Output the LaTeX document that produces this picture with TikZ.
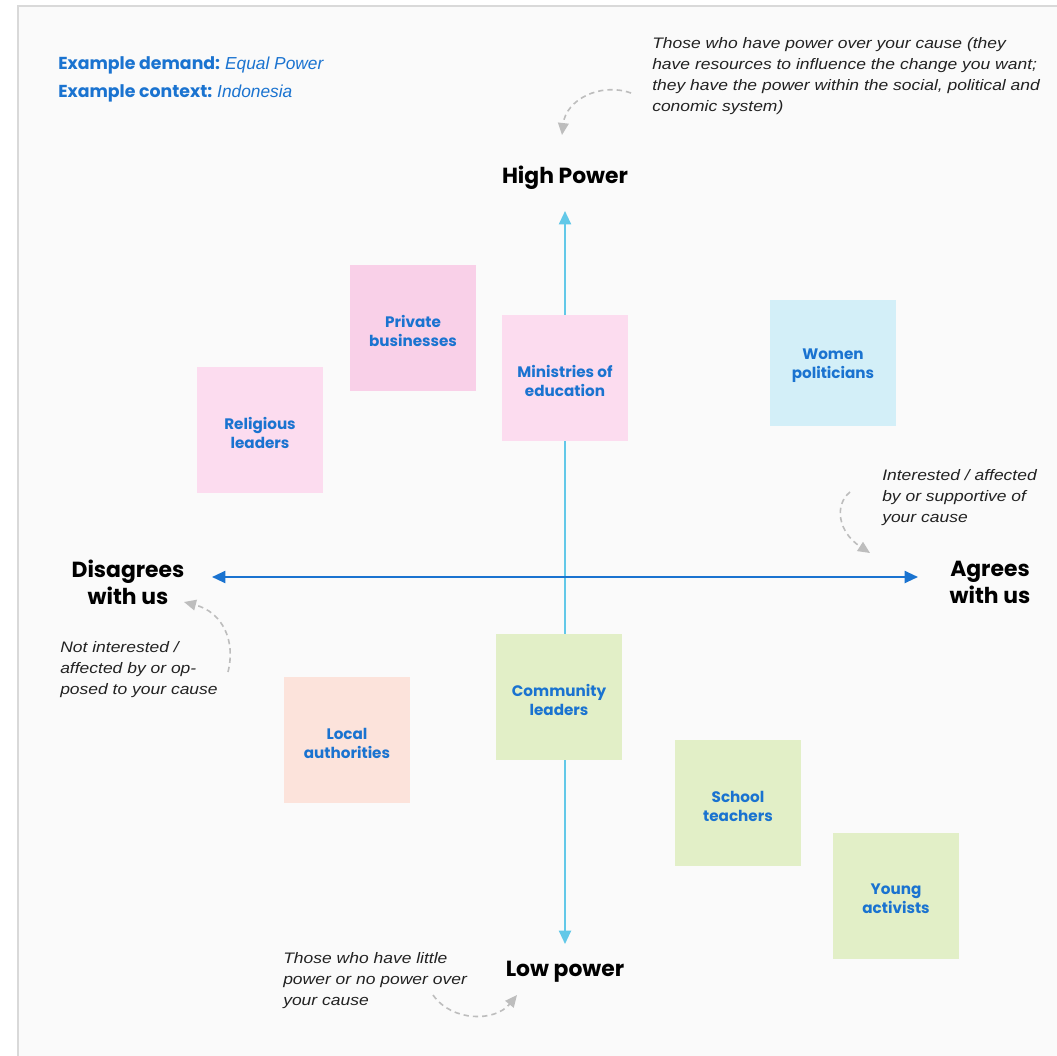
\documentclass[tikz,border=0pt]{standalone}
\usepackage{fontspec}
\setmainfont{Liberation Sans}
\newfontfamily\pop{Poppins}
\newfontfamily\annfont{Liberation Sans}[FakeStretch=1.15]
\usetikzlibrary{arrows.meta}
\definecolor{bg}{HTML}{FAFAFA}
\definecolor{framec}{HTML}{D9D9D9}
\definecolor{bluetxt}{HTML}{1A73D0}
\definecolor{axisv}{HTML}{62C8E8}
\definecolor{axish}{HTML}{1A73D0}
\definecolor{dashc}{HTML}{BDBDBD}
\definecolor{annot}{HTML}{222222}
\definecolor{pinkA}{HTML}{F9D0E8}
\definecolor{pinkB}{HTML}{FCDCEF}
\definecolor{cyanA}{HTML}{D3EFF8}
\definecolor{greenA}{HTML}{E2EFC7}
\definecolor{peachA}{HTML}{FCE3DB}
\tikzset{
  sticky/.style={minimum width=126*0.75pt, minimum height=126*0.75pt, inner sep=0pt,
    align=center, text=bluetxt, font=\pop\bfseries\fontsize{11.4}{14.25}\selectfont},
  stickytext/.style={inner sep=0pt, align=center, text=bluetxt, font=\pop\bfseries\fontsize{11.4}{14.25}\selectfont},
  heading/.style={inner sep=0pt, align=center, text=black, font=\pop\bfseries\fontsize{16.4}{20.25}\selectfont},
  annotation/.style={inner sep=0pt, align=left, anchor=north west, text=annot, font=\annfont\itshape\fontsize{11.4}{15.75}\selectfont},
  hint/.style={dashc, line width=1.2pt, dash pattern=on 4pt off 3pt, -{Triangle[length=9pt,width=8pt]}},
  axisline/.style={line width=1.5pt, {Triangle[length=10pt,width=9pt]}-{Triangle[length=10pt,width=9pt]}}
}
\begin{document}
\begin{tikzpicture}[x=0.75pt,y=-0.75pt]
\useasboundingbox (0,0) rectangle (1057,1056);
\fill[white] (0,0) rectangle (1057,1056);
\fill[bg] (18,6) rectangle (1057,1056);
\draw[framec, line width=2pt] (1057,6) -- (18,6) -- (18,1056);

% header
\node[inner sep=0pt, anchor=west, text=bluetxt] (demand) at (58,65)
  {{\pop\bfseries\fontsize{13}{15}\selectfont Example demand:} {\itshape\fontsize{13}{15}\selectfont Equal Power}};
\node[inner sep=0pt, anchor=west, text=bluetxt] (context) at (58,93)
  {{\pop\bfseries\fontsize{13}{15}\selectfont Example context:} {\itshape\fontsize{13}{15}\selectfont Indonesia}};

% axis labels
\node[heading] (high) at (565,178) {High Power};
\node[heading] (low) at (565,972) {Low power};
\node[heading] (dis) at (128,582) {Disagrees\\with us};
\node[heading] (agr) at (990,582) {Agrees\\with us};

% axes
\coordinate (vtop) at (565,211);
\coordinate (vbot) at (565,944);
\coordinate (hleft) at (212,577);
\coordinate (hright) at (918,577);
\draw[axisline, axisv] (vtop) -- (vbot);
\draw[axisline, axish] (hleft) -- (hright);

% stickies
\node[sticky, fill=pinkA] (priv) at (413,328) {};
\node[sticky, fill=pinkB] (relig) at (260,430) {};
\node[sticky, fill=pinkB] (minis) at (565,378) {};
\node[sticky, fill=cyanA] (women) at (833,363) {};
\node[sticky, fill=greenA] (comm) at (559,697) {};
\node[sticky, fill=peachA] (local) at (347,740) {};
\node[sticky, fill=greenA] (school) at (738,803) {};
\node[sticky, fill=greenA] (young) at (896,896) {};
\node[stickytext] (privt) at ([yshift=-3*0.75pt]priv.center) {Private\\businesses};
\node[stickytext] (religt) at ([yshift=-3*0.75pt]relig.center) {Religious\\leaders};
\node[stickytext] (minist) at ([yshift=-3*0.75pt]minis.center) {Ministries of\\education};
\node[stickytext] (woment) at ([yshift=-3*0.75pt]women.center) {Women\\politicians};
\node[stickytext] (commt) at ([yshift=-3*0.75pt]comm.center) {Community\\leaders};
\node[stickytext] (localt) at ([yshift=-3*0.75pt]local.center) {Local\\authorities};
\node[stickytext] (schoolt) at ([yshift=-3*0.75pt]school.center) {School\\teachers};
\node[stickytext] (youngt) at ([yshift=-3*0.75pt]young.center) {Young\\activists};

% annotations
\node[annotation] (ntop) at (652,37) {Those who have power over your cause (they\\have resources to influence the change you want;\\they have the power within the social, political and\\conomic system)};
\node[annotation] (nright) at (882,469) {Interested / affected\\by or supportive of\\your cause};
\node[annotation] (nleft) at (60,641) {Not interested /\\affected by or op-\\posed to your cause};
\node[annotation] (nbot) at (283,952) {Those who have little\\power or no power over\\your cause};

% hint arrows
\coordinate (s1) at (631,93); \coordinate (e1) at (562,135);
\draw[hint] (s1) .. controls (600,82) and (566,100) .. (e1);
\coordinate (s2) at (850,492); \coordinate (e2) at (870,553);
\draw[hint] (s2) .. controls (834,505) and (838,532) .. (e2);
\coordinate (s3) at (228,672); \coordinate (e3) at (184,602);
\draw[hint] (s3) .. controls (236,640) and (222,612) .. (e3);
\coordinate (s4) at (433,995); \coordinate (e4) at (517,995);
\draw[hint] (s4) .. controls (452,1022) and (495,1022) .. (e4);
\end{tikzpicture}
\end{document}
